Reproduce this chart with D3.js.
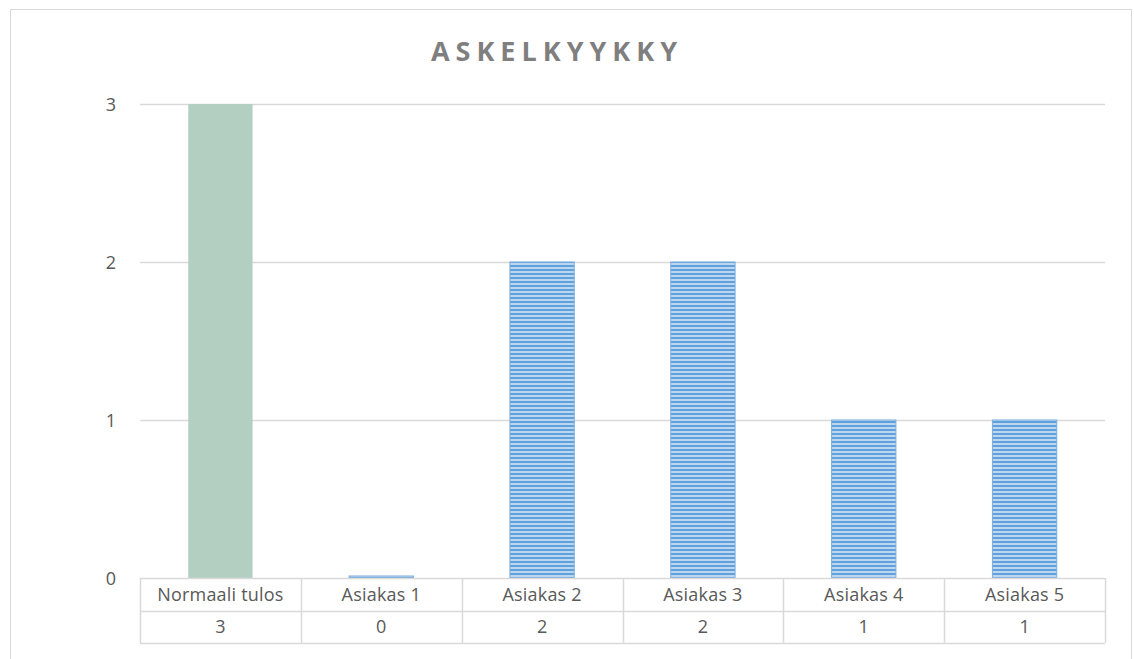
<!DOCTYPE html>
<html>
<head>
<meta charset="utf-8">
<script src="https://cdn.jsdelivr.net/npm/d3@7"></script>
<style>
  body { margin: 0; background: #fff; }
  text { font-family: "Open Sans", "Noto Sans", sans-serif; fill: #595959; }
</style>
</head>
<body>
<svg id="chart" width="1134" height="659"></svg>
<script>
// Chart data
var categories = ['Normaali tulos', 'Asiakas 1', 'Asiakas 2', 'Asiakas 3', 'Asiakas 4', 'Asiakas 5'];
var values = [3, 0, 2, 2, 1, 1];
var yTicks = [0, 1, 2, 3];
var title = 'ASKELKYYKKY';

var svg = d3.select('#chart');

// Outer chart frame
svg.append('rect')
    .attr('x', 10.5).attr('y', 9.5)
    .attr('width', 1121).attr('height', 660)
    .attr('fill', '#fff')
    .attr('stroke', '#d9d9d9');

// Stripe pattern for client bars
var defs = svg.append('defs');
var pattern = defs.append('pattern')
    .attr('id', 'stripes')
    .attr('patternUnits', 'userSpaceOnUse')
    .attr('width', 8).attr('height', 4);
pattern.append('rect').attr('width', 8).attr('height', 4).attr('fill', '#bcd6f0');
pattern.append('rect').attr('y', 1).attr('width', 8).attr('height', 2).attr('fill', '#62a0dc');

var plotLeft = 140, plotRight = 1105, plotTop = 104, plotBottom = 578;
var rowH = 32.5;

var x = d3.scaleBand()
    .domain(categories)
    .range([plotLeft, plotRight])
    .paddingInner(0)
    .paddingOuter(0);

var y = d3.scaleLinear()
    .domain([0, 3])
    .range([plotBottom, plotTop]);

// Title
svg.append('text')
    .attr('x', 557).attr('y', 61)
    .attr('text-anchor', 'middle')
    .style('font-size', '27px')
    .style('font-weight', 'bold')
    .style('letter-spacing', '6px')
    .style('fill', '#7f7f7f')
    .text(title);

// Grid lines
svg.append('g').selectAll('line')
    .data(yTicks.filter(function(d) { return d > 0; }))
    .enter().append('line')
    .attr('x1', plotLeft).attr('x2', plotRight)
    .attr('y1', function(d) { return Math.round(y(d)) + 0.5; })
    .attr('y2', function(d) { return Math.round(y(d)) + 0.5; })
    .attr('stroke', '#d9d9d9')
    .attr('stroke-width', 1.5);

// y axis labels
var yAxis = d3.axisLeft(y).tickValues(yTicks).tickFormat(d3.format('d')).tickSize(0).tickPadding(0);
var yg = svg.append('g')
    .attr('transform', 'translate(111,0)')
    .call(yAxis);
yg.select('.domain').remove();
yg.selectAll('text')
    .attr('text-anchor', 'middle')
    .attr('dy', '0.35em')
    .style('font-size', '18px')
    .style('font-family', '"Open Sans", "Noto Sans", sans-serif')
    .style('fill', '#595959');

// Bars
var barW = x.bandwidth() * 0.4;
svg.append('g').selectAll('rect')
    .data(values)
    .enter().append('rect')
    .attr('x', function(d, i) { return x(categories[i]) + (x.bandwidth() - barW) / 2; })
    .attr('width', barW)
    .attr('y', function(d) { return d > 0 ? y(d) : y(0) - 2; })
    .attr('height', function(d) { return d > 0 ? y(0) - y(d) : 2; })
    .attr('fill', function(d, i) { return i === 0 ? '#b3cfc2' : 'url(#stripes)'; })
    .attr('stroke', function(d, i) { return i === 0 ? 'none' : '#7aaee0'; })
    .attr('stroke-width', 1);

// Data table
var table = svg.append('g');
var edges = categories.map(function(c) { return x(c); }).concat([plotRight]);
table.selectAll('line.v')
    .data(edges)
    .enter().append('line')
    .attr('class', 'v')
    .attr('x1', function(d) { return Math.round(d) + 0.5; })
    .attr('x2', function(d) { return Math.round(d) + 0.5; })
    .attr('y1', plotBottom).attr('y2', plotBottom + 2 * rowH)
    .attr('stroke', '#d9d9d9').attr('stroke-width', 1.5);
table.selectAll('line.h')
    .data([0, 1, 2])
    .enter().append('line')
    .attr('class', 'h')
    .attr('x1', plotLeft).attr('x2', plotRight)
    .attr('y1', function(d) { return Math.round(plotBottom + d * rowH) + 0.5; })
    .attr('y2', function(d) { return Math.round(plotBottom + d * rowH) + 0.5; })
    .attr('stroke', '#d9d9d9').attr('stroke-width', 1.5);

table.selectAll('text.cat')
    .data(categories)
    .enter().append('text')
    .attr('class', 'cat')
    .attr('x', function(d) { return x(d) + x.bandwidth() / 2; })
    .attr('y', plotBottom + rowH / 2)
    .attr('dy', '0.35em')
    .attr('text-anchor', 'middle')
    .style('font-size', '18px')
    .style('letter-spacing', '0.2px')
    .text(function(d) { return d; });

table.selectAll('text.val')
    .data(values)
    .enter().append('text')
    .attr('class', 'val')
    .attr('x', function(d, i) { return x(categories[i]) + x.bandwidth() / 2; })
    .attr('y', plotBottom + rowH * 1.5)
    .attr('dy', '0.35em')
    .attr('text-anchor', 'middle')
    .style('font-size', '18px')
    .text(function(d) { return d; });
</script>
</body>
</html>
